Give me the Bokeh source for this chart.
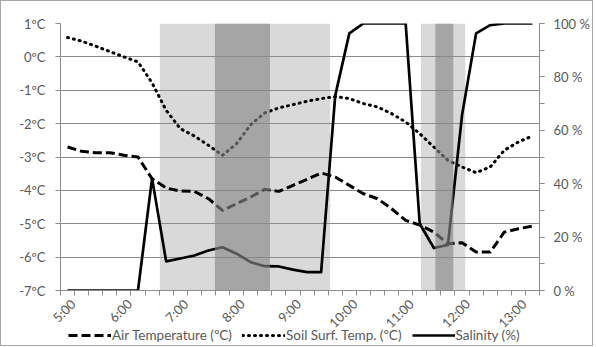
import math
from bokeh.plotting import figure
from bokeh.layouts import column
from bokeh.models import Range1d, LinearAxis, FixedTicker, BoxAnnotation, Legend, LegendItem
from bokeh.embed import file_html
from bokeh.resources import INLINE

times = ["5:00", "5:15", "5:30", "5:45", "6:00", "6:15", "6:30", "6:45",
         "7:00", "7:15", "7:30", "7:45", "8:00", "8:15", "8:30", "8:45",
         "9:00", "9:15", "9:30", "9:45", "10:00", "10:15", "10:30", "10:45",
         "11:00", "11:15", "11:30", "11:45", "12:00", "12:15", "12:30", "12:45",
         "13:00", "13:15"]
air_temp = [-2.70, -2.83, -2.87, -2.87, -2.95, -3.00, -3.65, -3.93,
            -4.02, -4.03, -4.25, -4.60, -4.40, -4.20, -3.97, -4.03,
            -3.85, -3.67, -3.48, -3.60, -3.85, -4.10, -4.25, -4.55,
            -4.90, -5.04, -5.25, -5.60, -5.57, -5.85, -5.85, -5.25,
            -5.15, -5.07]
soil_temp = [0.58, 0.47, 0.32, 0.16, 0.00, -0.15, -0.78, -1.60,
             -2.15, -2.37, -2.65, -2.95, -2.60, -2.03, -1.68, -1.53,
             -1.43, -1.33, -1.25, -1.19, -1.25, -1.40, -1.50, -1.70,
             -1.95, -2.30, -2.70, -3.10, -3.30, -3.47, -3.30, -2.80,
             -2.55, -2.37]
salinity = [0, 0, 0, 0, 0, 0, 42.0, 10.9,
            12.0, 13.1, 15.0, 16.2, 13.8, 10.6, 9.1, 9.0,
            7.8, 6.9, 6.9, 73.0, 96.3, 100, 100, 100,
            100, 25.0, 15.9, 17.1, 65.6, 96.3, 99.4, 100,
            100, 100]
temp_ticks = [-7, -6, -5, -4, -3, -2, -1, 0, 1]
temp_labels = ["-7ºC", "-6ºC", "-5ºC", "-4ºC", "-3ºC", "-2ºC", "-1ºC", "0ºC", "1ºC"]
sal_ticks = [0, 20, 40, 60, 80, 100]
sal_labels = ["0 %", "20 %", "40 %", "60 %", "80 %", "100 %"]
sal_minor = [0, 10, 20, 30, 40, 50, 60, 70, 80, 90, 100]
series_names = ["Air Temperature (ºC)", "Soil Surf. Temp. (ºC)", "Salinity (%)"]
# shaded periods, in 15-minute slot units (0 = 5:00)
light_bands = [(6.55, 18.64), (25.09, 28.23)]
dark_bands = [(10.46, 14.37), (26.11, 27.38)]

FONT = "Lato"
TXT = "#595959"
GRID = "#8c8c8c"
AIR_STYLE = dict(line_color="black", line_width=3, line_dash="9 4", line_join="round")
SOIL_STYLE = dict(line_color="black", line_width=3, line_dash="1 5", line_cap="round",
                  line_join="round")
SAL_STYLE = dict(line_color="black", line_width=2.7, line_join="round")

x = list(range(len(times)))

p = figure(width=591, height=339, output_backend="svg", toolbar_location=None,
           x_range=Range1d(-0.5, len(times) - 0.5), y_range=Range1d(-7, 1),
           min_border_left=59, min_border_right=52, min_border_top=22, min_border_bottom=50,
           outline_line_color=None)
p.extra_y_ranges = {"sal": Range1d(0, 100)}

for a, b in light_bands:
    p.add_layout(BoxAnnotation(left=a, right=b, fill_color="#d9d9d9", fill_alpha=1.0,
                               line_color=None, level="image"))

p.line(x, air_temp, **AIR_STYLE)
p.line(x, soil_temp, **SOIL_STYLE)
p.line(x, salinity, y_range_name="sal", **SAL_STYLE)

for a, b in dark_bands:
    p.add_layout(BoxAnnotation(left=a, right=b, fill_color="#878787", fill_alpha=0.63,
                               line_color=None, level="overlay"))

# x axis: labels every hour, small ticks between the 15-minute slots
lab_pos = [i + 0.4 for i in x[::4]]
xa = p.xaxis[0]
xa.ticker = FixedTicker(ticks=lab_pos, minor_ticks=[i - 0.5 for i in range(len(times) + 1)])
xa.major_label_overrides = {pos: times[i] for pos, i in zip(lab_pos, x[::4])}
xa.major_label_orientation = math.pi / 4
xa.major_tick_out = 0
xa.major_tick_in = 0
xa.minor_tick_out = 5
xa.minor_tick_in = 0
xa.major_label_standoff = 6
p.xgrid.grid_line_color = None

# left axis
ya = p.yaxis[0]
ya.ticker = FixedTicker(ticks=temp_ticks)
ya.major_label_overrides = {t: l for t, l in zip(temp_ticks, temp_labels)}
ya.major_tick_out = 5
ya.major_tick_in = 0
ya.minor_tick_line_color = None
ya.major_label_standoff = 10
p.ygrid.grid_line_color = GRID

# right axis
ra = LinearAxis(y_range_name="sal",
                ticker=FixedTicker(ticks=sal_ticks, minor_ticks=sal_minor))
ra.major_label_overrides = {t: l for t, l in zip(sal_ticks, sal_labels)}
ra.major_tick_out = 5
ra.major_tick_in = 0
ra.minor_tick_out = 5
ra.minor_tick_in = 0
ra.major_label_standoff = 9
p.add_layout(ra, "right")

for ax in (xa, ya, ra):
    ax.axis_line_color = GRID
    ax.major_tick_line_color = GRID
    if ax is not ya:
        ax.minor_tick_line_color = GRID
    ax.major_label_text_font = FONT
    ax.major_label_text_font_size = "13px"
    ax.major_label_text_color = TXT

# legend strip below the chart (its series lie outside its view; only the keys show)
lg = figure(width=591, height=16, output_backend="svg", toolbar_location=None,
            x_range=Range1d(0, 1), y_range=Range1d(-100, -99), min_border=0,
            x_axis_location=None, y_axis_location=None, outline_line_color=None,
            background_fill_alpha=0, border_fill_alpha=0,
            styles={"margin-top": "-11px"})
lg.grid.grid_line_color = None
r_air = lg.line(x, air_temp, **AIR_STYLE)
r_soil = lg.line(x, soil_temp, **SOIL_STYLE)
r_sal = lg.line(x, salinity, **SAL_STYLE)
legend = Legend(items=[LegendItem(label=n, renderers=[r])
                       for n, r in zip(series_names, [r_air, r_soil, r_sal])],
                orientation="horizontal", location=(8, 2),
                glyph_width=43, glyph_height=14, label_height=14, label_standoff=1,
                spacing=10, padding=0, margin=0, border_line_color=None,
                background_fill_alpha=0, label_text_font=FONT,
                label_text_font_size="13.5px", label_text_color=TXT)
lg.add_layout(legend)

layout = column(p, lg, spacing=0, styles={"border": "1px solid #a6a6a6"})

open("out.html", "w").write(file_html(layout, INLINE))
